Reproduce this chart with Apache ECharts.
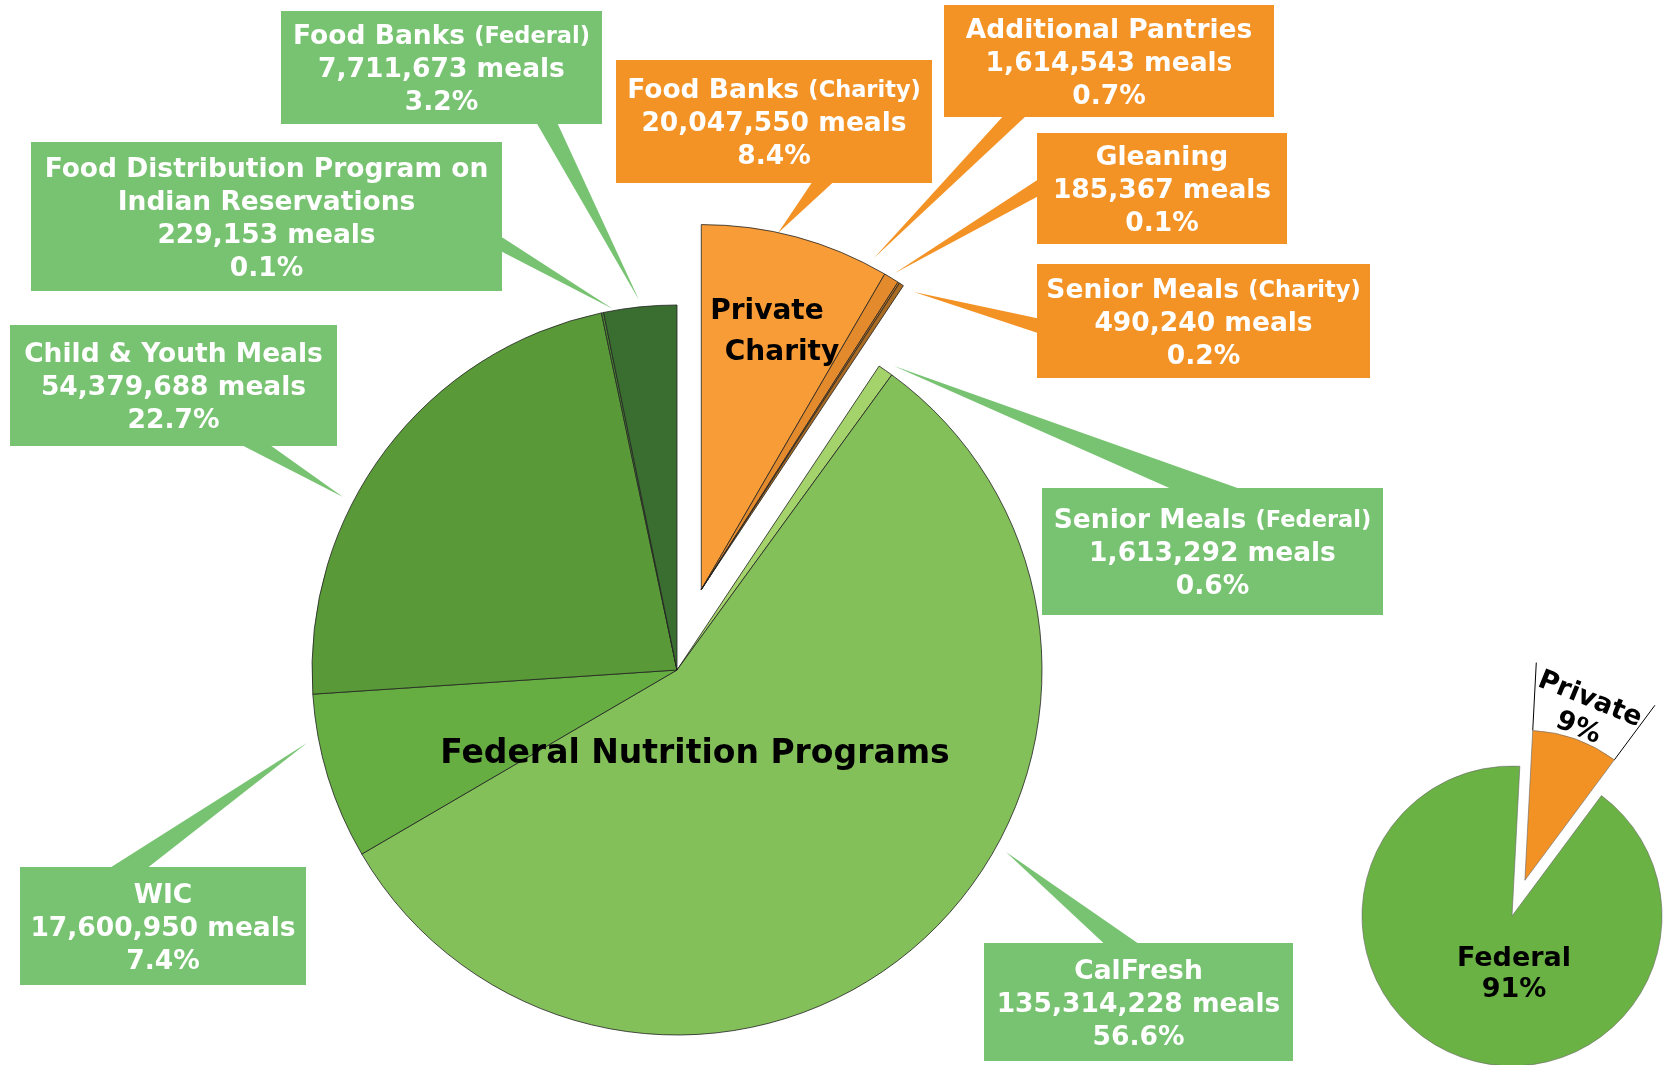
<!DOCTYPE html>
<html>
<head>
<meta charset="utf-8">
<title>Meals by source</title>
<script src="https://cdn.jsdelivr.net/npm/echarts@6.0.0/dist/echarts.min.js"></script>
<style>
  html, body { margin: 0; padding: 0; background: #fff; }
  #chart { width: 1667px; height: 1065px; }
</style>
</head>
<body>
<div id="chart"></div>
<script>
// private charity slices, clockwise from 12 o'clock
const privateNames = ['Food Banks (Charity)', 'Additional Pantries', 'Gleaning', 'Senior Meals (Charity)'];
const privateMeals = [20047550, 1614543, 185367, 490240];
const privatePct = ['8.4%', '0.7%', '0.1%', '0.2%'];

// federal programs, continuing clockwise
const federalNames = ['Senior Meals (Federal)', 'CalFresh', 'WIC', 'Child & Youth Meals',
  'Food Distribution Program on\nIndian Reservations', 'Food Banks (Federal)'];
const federalMeals = [1613292, 135314228, 17600950, 54379688, 229153, 7711673];
const federalPct = ['0.6%', '56.6%', '7.4%', '22.7%', '0.1%', '3.2%'];

const summaryNames = ['Private', 'Federal'];

// styles
const privateColors = ['#f89c37', '#e28a2c', '#c97b26', '#a96b21'];
const federalColors = ['#a4d36b', '#84c05a', '#66ad42', '#5a9938', '#4d8b35', '#3a6e30'];
const summaryColors = ['#f39224', '#6bb244'];
const GREEN_BOX = '#78c372';
const ORANGE_BOX = '#f39225';
const FONT = '"DejaVu Sans", sans-serif';

// label boxes [x0, y0, x1, y1] and callout wedges [baseA, baseB, tip]
const privateBoxes = [
  [616, 60, 932, 183],
  [944, 5, 1274, 117],
  [1037, 133, 1287, 244],
  [1037, 264, 1370, 378]
];
const privateWedges = [
  [[811, 183], [833, 183], [778, 233]],
  [[1002, 117], [1025, 117], [874, 258]],
  [[1037, 180], [1037, 197], [895, 273]],
  [[1037, 318], [1037, 333], [914, 292]]
];
const federalBoxes = [
  [1042, 488, 1383, 615],
  [984, 943, 1293, 1061],
  [20, 867, 306, 985],
  [10, 325, 337, 446],
  [31, 142, 502, 291],
  [281, 11, 602, 124]
];
const federalWedges = [
  [[1169, 488], [1238, 488], [894, 366]],
  [[1103, 943], [1138, 943], [1006, 852]],
  [[111, 867], [149, 867], [307, 743]],
  [[243, 446], [272, 446], [343, 497]],
  [[502, 237], [502, 252], [613, 309]],
  [[537, 124], [558, 124], [639, 300]]
];
// small pie label spots
const summaryLabelPos = [
  { x: 1584, y: 714, rotate: -22 },
  { x: 1514, y: 974, rotate: 0 }
];

const CX = 677, CY = 670, R = 365, EXPLODE = 84;
const SCX = 1512, SCY = 916, SR = 150, S_START = 87, S_OFFSET = 38;
const LINE_H = 33;
const TEXT_DY = 3;

const sum = a => a.reduce((s, v) => s + v, 0);
const privateTotal = sum(privateMeals);
const federalTotal = sum(federalMeals);
const grandTotal = privateTotal + federalTotal;
const rad = d => d * Math.PI / 180;

// private group is pulled out along its own middle angle
const privMid = privateTotal / grandTotal * 180;
const PCX = CX + EXPLODE * Math.sin(rad(privMid));
const PCY = CY - EXPLODE * Math.cos(rad(privMid));

const rich = {
  t: { fontFamily: FONT, fontWeight: 'bold', fontSize: 26.5, color: '#fff', lineHeight: LINE_H },
  s: { fontFamily: FONT, fontWeight: 'bold', fontSize: 22.5, color: '#fff', lineHeight: LINE_H }
};

function labelText(name, meals, pct) {
  const m = name.match(/^(.*) (\(.*\))$/);
  const title = m ? '{t|' + m[1] + ' }{s|' + m[2] + '}'
    : name.split('\n').map(l => '{t|' + l + '}').join('\n');
  return title + '\n{t|' + meals.toLocaleString('en-US') + ' meals}\n{t|' + pct + '}';
}

function sliceItem(name, meals, pct, color, box, boxColor) {
  const lines = name.split('\n').length + 2;
  const w = box[2] - box[0], h = box[3] - box[1];
  const pad = Math.max(0, (h - lines * LINE_H) / 2);
  return {
    name: name, value: meals,
    itemStyle: { color: color },
    label: {
      formatter: labelText(name, meals, pct),
      backgroundColor: boxColor,
      width: w,
      padding: [pad + TEXT_DY, 0, pad - TEXT_DY, 0],
      rich: rich
    }
  };
}

const blank = v => ({
  value: v, name: '',
  itemStyle: { color: 'rgba(0,0,0,0)', borderWidth: 0 },
  label: { show: false }
});

const privateData = privateNames.map((n, i) =>
  sliceItem(n, privateMeals[i], privatePct[i], privateColors[i], privateBoxes[i], ORANGE_BOX));
privateData.push(blank(federalTotal));

const federalData = [blank(privateTotal)].concat(federalNames.map((n, i) =>
  sliceItem(n, federalMeals[i], federalPct[i], federalColors[i], federalBoxes[i], GREEN_BOX)));

function boxLayout(boxes, shift) {
  return function (p) {
    const b = boxes[p.dataIndex - shift];
    if (!b) return {};
    return { x: (b[0] + b[2]) / 2, y: (b[1] + b[3]) / 2, align: 'center', verticalAlign: 'middle' };
  };
}

function pieBase(center, data) {
  return {
    type: 'pie',
    center: center,
    radius: R,
    startAngle: 90,
    clockwise: true,
    silent: true,
    animation: false,
    avoidLabelOverlap: false,
    itemStyle: { borderColor: '#222', borderWidth: 0.8 },
    label: { show: true, position: 'outside', overflow: 'none', align: 'center' },
    labelLine: { show: false },
    emphasis: { disabled: true },
    data: data
  };
}

// callout wedges, base pushed slightly into the box
function wedge(w, color) {
  const [a, b, tip] = w;
  const mx = (a[0] + b[0]) / 2 - tip[0], my = (a[1] + b[1]) / 2 - tip[1];
  const len = Math.hypot(mx, my);
  const ex = mx / len * 4, ey = my / len * 4;
  return {
    type: 'polygon',
    shape: { points: [tip, [a[0] + ex, a[1] + ey], [b[0] + ex, b[1] + ey]] },
    style: { fill: color }
  };
}

const graphics = [];
privateWedges.forEach(w => graphics.push(wedge(w, ORANGE_BOX)));
federalWedges.forEach(w => graphics.push(wedge(w, GREEN_BOX)));

// small pie: private slice pulled out along its middle angle
const sPrivDeg = privateTotal / grandTotal * 360;
const sMid = 90 - S_START + sPrivDeg / 2;
const apexX = SCX + S_OFFSET * Math.sin(rad(sMid));
const apexY = SCY - S_OFFSET * Math.cos(rad(sMid));
[90 - S_START, 90 - S_START + sPrivDeg].forEach(a => {
  graphics.push({
    type: 'line',
    shape: {
      x1: apexX + SR * Math.sin(rad(a)), y1: apexY - SR * Math.cos(rad(a)),
      x2: apexX + (SR + 68) * Math.sin(rad(a)), y2: apexY - (SR + 68) * Math.cos(rad(a))
    },
    style: { stroke: '#000', lineWidth: 1 }
  });
});

graphics.push({
  type: 'text', z: 100, x: 767, y: 312,
  style: { text: 'Private', font: 'bold 28px ' + FONT, fill: '#000', align: 'center', verticalAlign: 'middle' }
});
graphics.push({
  type: 'text', z: 100, x: 782, y: 353,
  style: { text: 'Charity', font: 'bold 28px ' + FONT, fill: '#000', align: 'center', verticalAlign: 'middle' }
});
graphics.push({
  type: 'text', z: 100, x: 695, y: 754,
  style: { text: 'Federal Nutrition Programs', font: 'bold 33px ' + FONT, fill: '#000', align: 'center', verticalAlign: 'middle' }
});

const privSeries = pieBase([PCX, PCY], privateData);
privSeries.labelLayout = boxLayout(privateBoxes, 0);
const fedSeries = pieBase([CX, CY], federalData);
fedSeries.labelLayout = boxLayout(federalBoxes, 1);

const summaryValues = [privateTotal, federalTotal];

function summaryPie(center, idx) {
  const data = summaryNames.map((n, i) => i === idx ? {
    name: n, value: summaryValues[i],
    itemStyle: { color: summaryColors[i] }
  } : blank(summaryValues[i]));
  return {
    type: 'pie',
    center: center,
    radius: SR,
    startAngle: S_START,
    clockwise: true,
    silent: true,
    animation: false,
    avoidLabelOverlap: false,
    itemStyle: { borderColor: '#666', borderWidth: 0.6 },
    labelLine: { show: false },
    emphasis: { disabled: true },
    label: {
      show: true, position: 'outside',
      fontFamily: FONT, fontWeight: 'bold', fontSize: 27, color: '#000', lineHeight: 31,
      formatter: p => p.name + '\n' + Math.round(p.value / grandTotal * 100) + '%'
    },
    labelLayout: p => {
      if (p.dataIndex !== idx) return {};
      const s = summaryLabelPos[idx];
      return { x: s.x, y: s.y, rotate: s.rotate, align: 'center', verticalAlign: 'middle' };
    },
    data: data
  };
}

const chart = echarts.init(document.getElementById('chart'));
chart.setOption({
  backgroundColor: '#fff',
  animation: false,
  graphic: { elements: graphics },
  series: [fedSeries, privSeries, summaryPie([SCX, SCY], 1), summaryPie([apexX, apexY], 0)]
});
</script>
</body>
</html>
